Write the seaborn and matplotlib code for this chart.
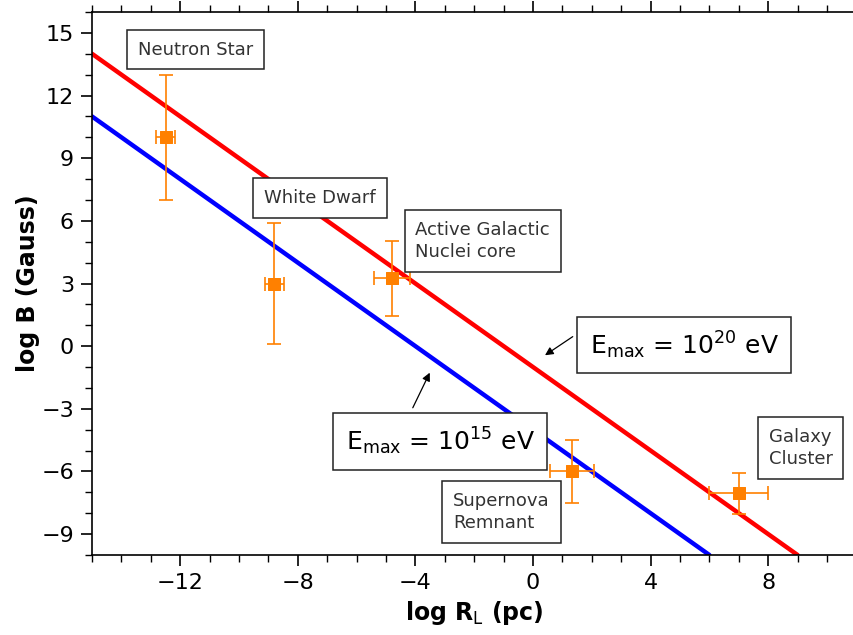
import matplotlib
matplotlib.use("Agg")
import matplotlib.pyplot as plt
import seaborn as sns
import numpy as np
from matplotlib.ticker import MultipleLocator

sns.set_theme(style="ticks")
plt.rcParams['font.family'] = ['DejaVu Sans']
plt.rcParams['mathtext.fontset'] = 'dejavusans'

# Lines: E_max = 1e20 eV (red) and 1e15 eV (blue)
red_x = [-15, 9]
red_y = [14, -10]
blue_x = [-15, 6]
blue_y = [11, -10]

# Objects
obj_names = ["Neutron Star", "White Dwarf", "Active Galactic\nNuclei core", "Supernova\nRemnant", "Galaxy\nCluster"]
obj_x = [-12.5, -8.8, -4.8, 1.33, 7.0]
obj_y = [10.0, 3.0, 3.25, -6.0, -7.05]
obj_xerr = [0.33, 0.33, 0.6, 0.75, 1.0]
obj_yerr = [3.0, 2.9, 1.8, 1.5, 1.0]

# label box centers (data coords)
lab_x = [-11.48, -7.24, -1.71, -1.07, 9.1]
lab_y = [14.2, 7.1, 5.04, -7.96, -4.89]

fig = plt.figure(figsize=(8.54, 6.35), dpi=100)
ax = fig.add_axes([92/854, 80/635, 764.4/854, 543/635])

sns.lineplot(x=red_x, y=red_y, color="#ff0000", lw=3.2, ax=ax)
sns.lineplot(x=blue_x, y=blue_y, color="#0000ff", lw=3.2, ax=ax)

orange = "#ff8000"
ax.errorbar(obj_x, obj_y, xerr=obj_xerr, yerr=obj_yerr, fmt="none",
            ecolor=orange, elinewidth=1.2, capsize=5, capthick=1.2, zorder=3)
sns.scatterplot(x=obj_x, y=obj_y, marker="s", s=80, color=orange,
                edgecolor=orange, ax=ax, zorder=4)

box = dict(boxstyle="square,pad=0.6", fc="white", ec="#222222", lw=1.1)
for name, x, y in zip(obj_names, lab_x, lab_y):
    ax.text(x, y, name, ha="center", va="center", fontsize=13,
            color="#333333", bbox=box, multialignment="left", linespacing=1.3)

bigbox = dict(boxstyle="square,pad=0.5", fc="white", ec="#222222", lw=1.1)
ax.text(5.14, 0.05, r"E$_{\mathregular{max}}$ = 10$^{20}$ eV", ha="center", va="center",
        fontsize=18, color="black", bbox=bigbox)
ax.text(-3.16, -4.56, r"E$_{\mathregular{max}}$ = 10$^{15}$ eV", ha="center", va="center",
        fontsize=18, color="black", bbox=bigbox)

ax.annotate("", xy=(0.33, -0.51), xytext=(1.43, 0.53),
            arrowprops=dict(arrowstyle="-|>", color="black", lw=0.9, mutation_scale=12))
ax.annotate("", xy=(-3.47, -1.15), xytext=(-4.13, -3.07),
            arrowprops=dict(arrowstyle="-|>", color="black", lw=0.9, mutation_scale=12))

ax.set_xlim(-15, 11)
ax.set_ylim(-10, 16)
ax.xaxis.set_major_locator(MultipleLocator(4))
ax.xaxis.set_minor_locator(MultipleLocator(1))
ax.yaxis.set_major_locator(MultipleLocator(3))
ax.yaxis.set_minor_locator(MultipleLocator(1))

ax.spines["right"].set_visible(False)
for s in ["left", "bottom", "top"]:
    ax.spines[s].set_color("black")
    ax.spines[s].set_linewidth(1.2)
ax.tick_params(which="both", direction="out", top=True, right=False, colors="black")
ax.tick_params(which="major", length=8, width=1.2, labelsize=16, pad=5)
ax.tick_params(which="minor", length=5, width=1.0)
ax.tick_params(axis="x", which="both", labeltop=False)

ax.set_xlabel(r"log R$_{\mathrm{L}}$ (pc)", fontsize=17, fontweight="bold", color="black")
ax.set_ylabel("log B (Gauss)", fontsize=17, fontweight="bold", color="black", labelpad=1)

fig.savefig("out.png", dpi=100)
